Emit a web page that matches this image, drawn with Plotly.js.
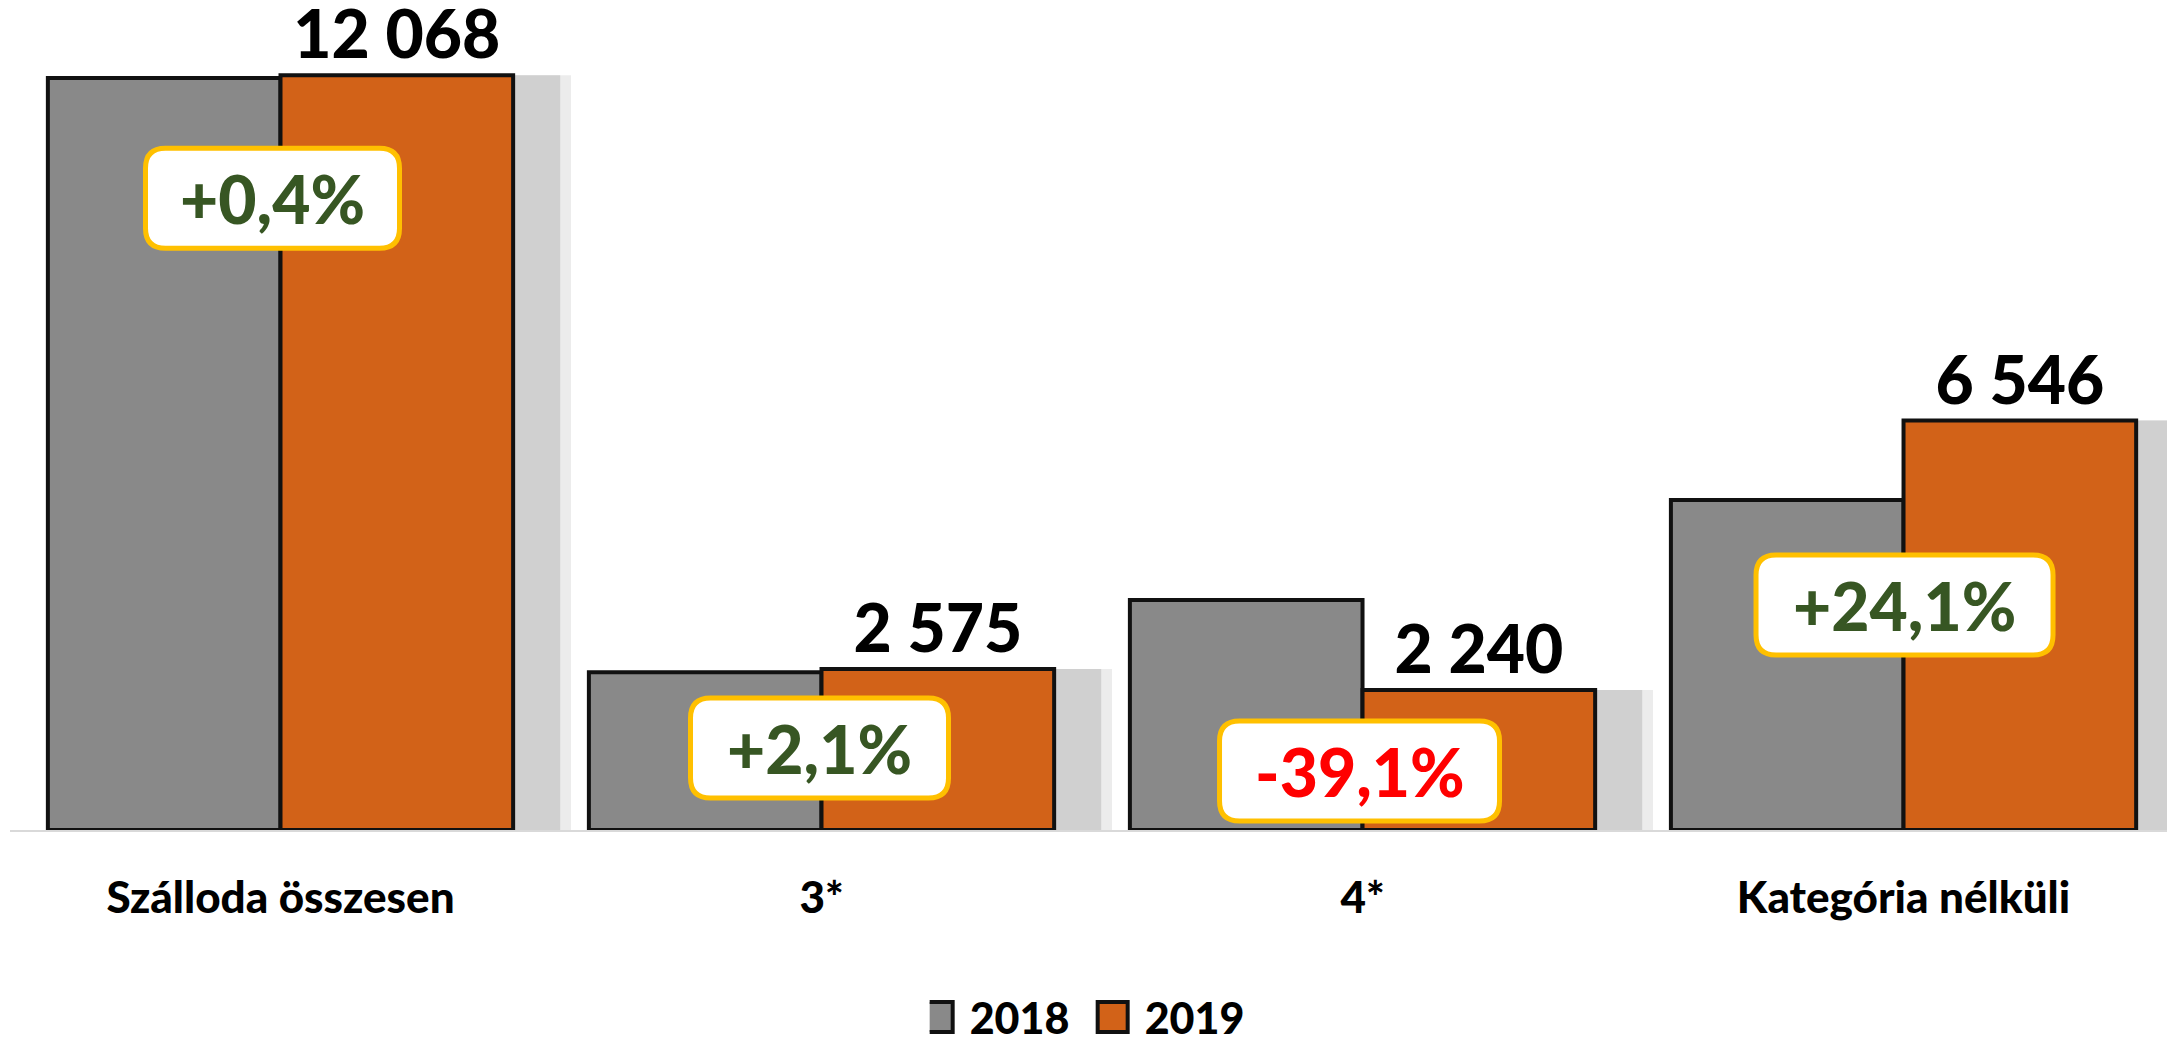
<!DOCTYPE html>
<html>
<head>
<meta charset="utf-8">
<script src="https://cdn.plot.ly/plotly-3.0.1.min.js"></script>
<style>html,body{margin:0;padding:0;background:#fff;}#chart{width:2167px;height:1038px;}</style>
</head>
<body>
<div id="chart"></div>
<script>
// ---- data ----
const categories = ['Szálloda összesen', '3*', '4*', 'Kategória nélküli'];
const series2018 = [12021, 2522, 3678, 5275];
const series2019 = [12068, 2575, 2240, 6546];
const changeLabels = ['+0,4%', '+2,1%', '-39,1%', '+24,1%'];
const seriesNames = ['2018', '2019'];

// ---- style / layout constants ----
const FONT = 'Lato, "Open Sans", "DejaVu Sans", sans-serif';
const BW = 0.43;            // bar width (category units)
const SHADOW_SHIFT = 0.087; // shadow offset to the right
const boxY = [10100, 1311, 943, 3597];       // vertical anchor of change boxes (axis units)
const boxDX = [-8, -2, -3, 1];               // pixel nudge of change boxes
const boxW = [254, 258, 280, 297];           // pixel width of change boxes
const BOX_H = 100;

const xIdx = categories.map((c, i) => i);

const traces = [
  { // soft outer shadow
    type: 'bar', x: xIdx, y: series2019, offset: SHADOW_SHIFT + 0.02, width: BW,
    marker: {color: '#ececec', line: {width: 0}}, showlegend: false, hoverinfo: 'skip'
  },
  { // shadow
    type: 'bar', x: xIdx, y: series2019, offset: SHADOW_SHIFT, width: BW,
    marker: {color: '#d0d0d0', line: {width: 0}}, showlegend: false, hoverinfo: 'skip'
  },
  {
    type: 'bar', name: seriesNames[0], x: xIdx, y: series2018, offset: -BW, width: BW,
    marker: {color: '#898989', line: {color: '#111111', width: 4}}
  },
  {
    type: 'bar', name: seriesNames[1], x: xIdx, y: series2019, offset: 0, width: BW,
    marker: {color: '#d26218', line: {color: '#111111', width: 4}},
    texttemplate: '%{y:,}', textposition: 'outside', cliponaxis: false, constraintext: 'none',
    textfont: {family: FONT, size: 66, color: '#000000', weight: 900}
  }
];

function roundRect(w, h, r, dx) {
  const a = w / 2, b = h / 2;
  const X = v => v + dx;
  return `M ${X(-a + r)},${-b} L ${X(a - r)},${-b} Q ${X(a)},${-b} ${X(a)},${-b + r} L ${X(a)},${b - r} Q ${X(a)},${b} ${X(a - r)},${b} ` +
         `L ${X(-a + r)},${b} Q ${X(-a)},${b} ${X(-a)},${b - r} L ${X(-a)},${-b + r} Q ${X(-a)},${-b} ${X(-a + r)},${-b} Z`;
}

const shapes = changeLabels.map((lab, i) => ({
  type: 'path', xref: 'x', yref: 'y', xsizemode: 'pixel', ysizemode: 'pixel',
  xanchor: xIdx[i], yanchor: boxY[i], path: roundRect(boxW[i], BOX_H, 20, boxDX[i]),
  fillcolor: '#ffffff', line: {color: '#FFC000', width: 5}, layer: 'above'
}));

const annotations = changeLabels.map((lab, i) => ({
  x: xIdx[i], y: boxY[i], xref: 'x', yref: 'y', text: lab, showarrow: false, xshift: boxDX[i],
  font: {family: FONT, size: 66, weight: 900, color: lab.startsWith('-') ? '#FF0000' : '#375623'},
  xanchor: 'center', yanchor: 'middle'
}));

const layout = {
  width: 2167, height: 1038,
  margin: {l: 10, r: 0, t: 20, b: 208, autoexpand: false},
  paper_bgcolor: '#ffffff', plot_bgcolor: '#ffffff',
  separators: ', ',
  barmode: 'overlay',
  showlegend: true,
  legend: {orientation: 'h', x: 0.5075, xanchor: 'center', y: -0.231, yanchor: 'middle',
           entrywidth: 130, entrywidthmode: 'pixels',
           font: {family: FONT, size: 43, weight: 900, color: '#000'}, itemclick: false},
  xaxis: {
    range: [-0.5, 3.487], tickmode: 'array', tickvals: xIdx, ticktext: categories,
    showline: true, linecolor: '#d9d9d9', linewidth: 2, ticks: '', showgrid: false, zeroline: false,
    tickfont: {family: FONT, size: 44, weight: 900, color: '#000'}, ticklabelstandoff: 28
  },
  yaxis: {range: [0, 12950], visible: false, showgrid: false, zeroline: false},
  shapes: shapes,
  annotations: annotations
};

Plotly.newPlot('chart', traces, layout, {staticPlot: true}).then(() => {
  document.querySelectorAll('.legendpoints path').forEach(p => {
    const t = p.getAttribute('transform') || '';
    p.setAttribute('transform', t + ' translate(-12,0) scale(2.5)');
    p.style.strokeWidth = '1.6px';
  });
});
</script>
</body>
</html>
